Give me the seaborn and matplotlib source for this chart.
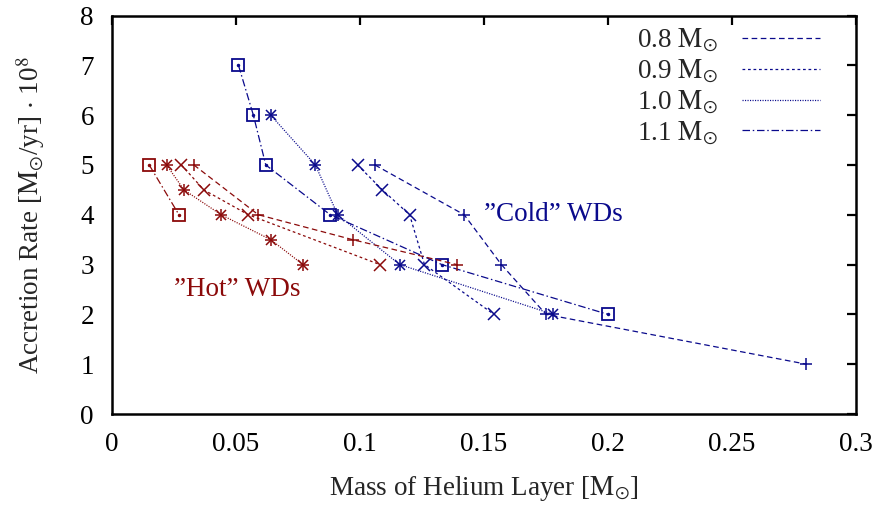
import matplotlib
matplotlib.use("Agg")
import matplotlib.pyplot as plt
import seaborn as sns
from matplotlib.lines import Line2D

sns.set_theme(style="white")
plt.rcParams['font.family'] = ['Liberation Serif', 'DejaVu Serif']
plt.rcParams['mathtext.fontset'] = 'stix'

# ---------------- data ----------------
masses = ["0.8", "0.9", "1.0", "1.1"]

cold_08_x = [0.106, 0.142, 0.157, 0.175, 0.280]
cold_08_y = [5, 4, 3, 2, 1]
cold_09_x = [0.099, 0.109, 0.120, 0.126, 0.154]
cold_09_y = [5, 4.5, 4, 3, 2]
cold_10_x = [0.064, 0.082, 0.091, 0.116, 0.178]
cold_10_y = [6, 5, 4, 3, 2]
cold_11_x = [0.051, 0.057, 0.062, 0.088, 0.133, 0.200]
cold_11_y = [7, 6, 5, 4, 3, 2]

hot_08_x = [0.033, 0.059, 0.097, 0.139]
hot_08_y = [5, 4, 3.5, 3]
hot_09_x = [0.028, 0.037, 0.055, 0.108]
hot_09_y = [5, 4.5, 4, 3]
hot_10_x = [0.022, 0.029, 0.044, 0.064, 0.077]
hot_10_y = [5, 4.5, 4, 3.5, 3]
hot_11_x = [0.015, 0.027]
hot_11_y = [5, 4]

xticks = [0, 0.05, 0.1, 0.15, 0.2, 0.25, 0.3]
xticklabels = ["0", "0.05", "0.1", "0.15", "0.2", "0.25", "0.3"]
yticks = [0, 1, 2, 3, 4, 5, 6, 7, 8]

BLUE = "#0a0a8c"
RED = "#8b0a0a"
FS = 19.5
MSUN = r"$\mathrm{M}_{\odot}$"

styles = {
    "0.8": (0, (4.5, 2.8)),
    "0.9": (0, (2.2, 2.2)),
    "1.0": (0, (0.9, 1.1)),
    "1.1": (0, (6.0, 2.2, 1.2, 2.2)),
}

fig = plt.figure(figsize=(8.79, 5.07), dpi=100)
ax = fig.add_axes([112/879, 1-414/507, (856-112)/879, (414-15.5)/507])

LW = 0.9

def draw(xs, ys, mass, color):
    sns.lineplot(x=xs, y=ys, sort=False, estimator=None, color=color,
                 linewidth=LW, linestyle=styles[mass], ax=ax, legend=False)
    if mass == "0.8":
        ax.plot(xs, ys, linestyle="none", marker="+", ms=9, mew=1.1, color=color)
    elif mass == "0.9":
        ax.plot(xs, ys, linestyle="none", marker="x", ms=8, mew=1.1, color=color)
    elif mass == "1.0":
        ax.plot(xs, ys, linestyle="none", marker="+", ms=9, mew=1.1, color=color)
        ax.plot(xs, ys, linestyle="none", marker="x", ms=7, mew=1.1, color=color)
    else:
        ax.plot(xs, ys, linestyle="none", marker="s", ms=8.5, mew=1.3,
                markerfacecolor="none", markeredgecolor=color)
        ax.plot(xs, ys, linestyle="none", marker="o", ms=1.5, color=color)

draw(cold_08_x, cold_08_y, "0.8", BLUE)
draw(cold_09_x, cold_09_y, "0.9", BLUE)
draw(cold_10_x, cold_10_y, "1.0", BLUE)
draw(cold_11_x, cold_11_y, "1.1", BLUE)
draw(hot_08_x, hot_08_y, "0.8", RED)
draw(hot_09_x, hot_09_y, "0.9", RED)
draw(hot_10_x, hot_10_y, "1.0", RED)
draw(hot_11_x, hot_11_y, "1.1", RED)

ax.set_xlim(0, 0.3)
ax.set_ylim(0, 8)
ax.set_xticks(xticks)
ax.set_xticklabels(xticklabels)
ax.set_yticks(yticks)
ax.tick_params(direction="in", length=6.5, width=1.6, top=True, right=True,
               labelsize=FS, pad=13, colors="black")
for s in ax.spines.values():
    s.set_linewidth(1.8)
    s.set_color("black")

ax.set_xlabel("Mass of Helium Layer [" + MSUN + "]", fontsize=FS, labelpad=12)
ax.set_ylabel("Accretion Rate [" + MSUN + r"/yr] $\cdot$ 10$^8$", fontsize=FS, labelpad=24)

ax.text(0.025, 2.5, "\u201dHot\u201d WDs", color=RED, fontsize=FS, va="center", ha="left")
ax.text(0.150, 4.0, "\u201dCold\u201d WDs", color=BLUE, fontsize=FS, va="center", ha="left")

handles = [Line2D([0], [0], color=BLUE, linewidth=LW, linestyle=styles[m]) for m in masses]
labels = [f"{m} " + MSUN for m in masses]
leg = ax.legend(handles, labels, loc="upper right", bbox_to_anchor=(0.985, 1.033),
                frameon=False, fontsize=FS, markerfirst=False, handlelength=2.9,
                labelspacing=0.12, handletextpad=0.9)

fig.savefig("out.png", dpi=100)
